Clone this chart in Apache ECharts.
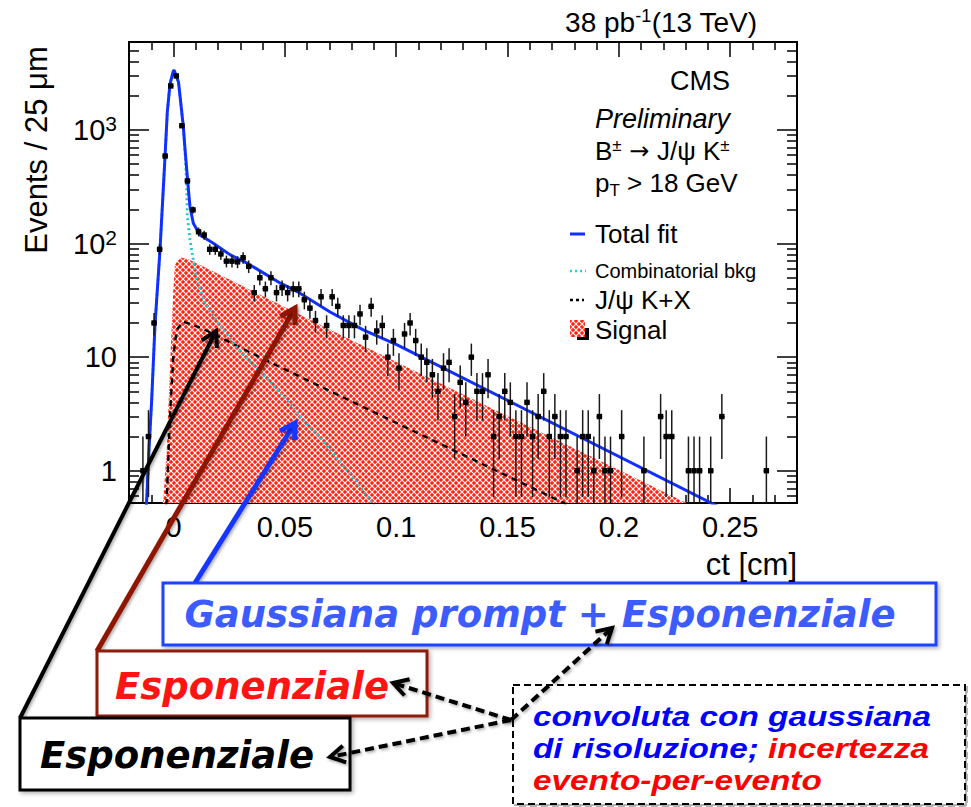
<!DOCTYPE html>
<html>
<head>
<meta charset="utf-8">
<title>B± → J/ψ K± ct</title>
<script src="https://cdn.jsdelivr.net/npm/echarts@6/dist/echarts.min.js"></script>
<style>
  html, body { margin: 0; padding: 0; background: #fff; }
  #chart { width: 971px; height: 807px; }
</style>
</head>
<body>
<div id="chart"></div>
<script>
// ct histogram: 25 μm bins from -0.02 to 0.28 cm
const CT_MIN = -0.02, CT_MAX = 0.28, BIN_WIDTH = 0.0025;
const Y_MIN = 0.52, Y_MAX = 5950;

// events per bin
const binCounts = [
  0, 0, 1, 2, 20, 89, 590, 2440, 2990, 1090,
  356, 198, 127, 119, 89, 89, 81, 70, 70, 69,
  75, 63, 37, 50, 40, 50, 37, 41, 37, 40,
  40, 32, 27, 21, 34, 19, 34, 28, 19, 19,
  19, 24, 15, 28, 17, 19, 10, 14, 8, 16,
  20, 14, 10, 9, 7, 5, 8, 9, 3, 6,
  4, 10, 5, 5, 7, 2, 3, 5, 4, 2,
  2, 4, 2, 3, 5, 2, 3, 2, 2, 0,
  1, 2, 2, 1, 3, 1, 1, 0, 2, 0,
  0, 0, 1, 0, 0, 3, 2, 2, 0, 0,
  1, 1, 1, 0, 1, 0, 3, 0, 0, 0,
  0, 0, 0, 0, 1, 0, 0, 0, 0, 0
];

// fit components, [ct (cm), events / 25 μm]
const totalFit = [
  [-0.0130, 0.30], [-0.01205, 0.557], [-0.01102, 1.53], [-0.00981, 4.22], [-0.00832, 19.3],
  [-0.00608, 88], [-0.00383, 579], [-0.00280, 1439], [-0.00159, 2539], [-0.00011, 3304],
  [0.0003, 3350], [0.00223, 2643], [0.00335, 1660], [0.00439, 1069], [0.00537, 603],
  [0.0065, 328], [0.00739, 211], [0.00888, 151], [0.01189, 119], [0.01786, 100.8],
  [0.0255, 79.5], [0.0330, 67.2], [0.0405, 54.9], [0.0480, 44.8], [0.0555, 37.8],
  [0.0703, 25.0], [0.0852, 17.4], [0.1002, 12.9], [0.25, 0.428]
];
const combinatorialBkg = [
  [-0.0130, 0.30], [-0.01205, 0.557], [-0.01102, 1.53], [-0.00981, 4.22], [-0.00832, 19.3],
  [-0.00608, 88], [-0.00383, 579], [-0.00280, 1439], [-0.00159, 2539], [-0.00011, 3304],
  [0.0003, 3330], [0.00223, 2620], [0.00335, 1640], [0.00439, 1050], [0.00537, 545],
  [0.00591, 295], [0.00618, 173], [0.00739, 108], [0.00861, 77], [0.0104, 48],
  [0.01413, 29.9], [0.0201, 19.9], [0.0276, 12.85], [0.0351, 8.87], [0.04256, 6.33],
  [0.05006, 4.37], [0.05756, 2.91], [0.06654, 1.88], [0.07777, 1.02], [0.08823, 0.557],
  [0.09048, 0.474]
];
const jpsiKX = [
  [-0.0038, 0.40], [-0.00307, 0.557], [-0.00159, 3.01], [-0.0001, 10.1], [0.00142, 17.4],
  [0.00439, 20.6], [0.01265, 18.0], [0.04256, 9.17], [0.10022, 2.63], [0.16907, 0.595],
  [0.18029, 0.466]
];
const signal = [
  [-0.00518, 0.455], [-0.0046, 0.557], [-0.00307, 1.53], [-0.00235, 3.45], [-0.00159, 8.3],
  [-0.00082, 18.6], [-0.0001, 39.2], [0.00065, 65], [0.0029, 75.9], [0.00663, 72.9],
  [0.0104, 67.2], [0.0703, 17.4], [0.1451, 3.38], [0.2035, 0.943], [0.25, 0.336]
];

// axis ticks
const xMajorTicks = [0, 0.05, 0.1, 0.15, 0.2, 0.25];
const xTickLabels = ['0', '0.05', '0.1', '0.15', '0.2', '0.25'];
const xMinorTicks = [-0.01, 0.01, 0.02, 0.03, 0.04, 0.06, 0.07, 0.08, 0.09, 0.11, 0.12, 0.13, 0.14,
  0.16, 0.17, 0.18, 0.19, 0.21, 0.22, 0.23, 0.24, 0.26, 0.27];
const yMajorTicks = [1, 10, 100, 1000];
const yTickLabels = ['1', '10', '{b|10}{s|2}', '{b|10}{s|3}'];
const yMinorTicks = [0.6, 0.7, 0.8, 0.9, 2, 3, 4, 5, 6, 7, 8, 9, 20, 30, 40, 50, 60, 70, 80, 90,
  200, 300, 400, 500, 600, 700, 800, 900, 2000, 3000, 4000, 5000];

const FONT = 'Liberation Sans, Arial, Helvetica, sans-serif';
const LOG = v => Math.log10(v);
const HALF_BIN = BIN_WIDTH / 2;

// red / white cross-hatch used for the signal component
function hatchTile() {
  const c = document.createElement('canvas');
  c.width = 6; c.height = 6;
  const g = c.getContext('2d');
  g.fillStyle = '#ff2410';
  g.fillRect(0, 0, 6, 6);
  g.strokeStyle = '#ffffff';
  g.lineWidth = 1.1;
  g.beginPath();
  g.moveTo(0, 0); g.lineTo(6, 6);
  g.moveTo(6, 0); g.lineTo(0, 6);
  g.stroke();
  return c;
}
const hatch = { image: hatchTile(), repeat: 'repeat' };

const dataPoints = binCounts
  .map((n, i) => [CT_MIN + BIN_WIDTH * (i + 0.5), n])
  .filter(d => d[1] > 0);

function xTickAxis(values, len, position, withLabels) {
  return {
    type: 'value', min: CT_MIN, max: CT_MAX, position: position,
    axisLine: { show: false, onZero: false }, splitLine: { show: false },
    axisTick: { show: true, inside: true, length: len, customValues: values,
      lineStyle: { color: '#000', width: 1.5 } },
    axisLabel: withLabels ? {
      show: true, customValues: values, margin: 9,
      fontSize: 29, fontFamily: FONT, color: '#000',
      formatter: v => xTickLabels[xMajorTicks.findIndex(t => Math.abs(t - v) < 1e-9)]
    } : { show: false }
  };
}
function yTickAxis(values, len, position, withLabels) {
  return {
    type: 'value', min: LOG(Y_MIN), max: LOG(Y_MAX), position: position,
    axisLine: { show: false, onZero: false }, splitLine: { show: false },
    axisTick: { show: true, inside: true, length: len, customValues: values.map(LOG),
      lineStyle: { color: '#000', width: 1.5 } },
    axisLabel: withLabels ? {
      show: true, customValues: values.map(LOG), margin: 12,
      fontSize: 29, fontFamily: FONT, color: '#000',
      formatter: v => yTickLabels[yMajorTicks.findIndex(t => Math.abs(LOG(t) - v) < 1e-9)],
      rich: {
        b: { fontSize: 29, fontFamily: FONT, color: '#000' },
        s: { fontSize: 21, fontFamily: FONT, color: '#000', padding: [0, 0, 12, 0] }
      }
    } : { show: false }
  };
}

function arrow(from, to, color, width, dash, z) {
  const ang = Math.atan2(to[1] - from[1], to[0] - from[0]);
  const L = 17, A = Math.PI / 6;
  const w1 = [to[0] - L * Math.cos(ang - A), to[1] - L * Math.sin(ang - A)];
  const w2 = [to[0] - L * Math.cos(ang + A), to[1] - L * Math.sin(ang + A)];
  const shadow = { shadowBlur: 3, shadowOffsetX: 1.5, shadowOffsetY: 1.5, shadowColor: 'rgba(0,0,0,0.35)' };
  return [
    { type: 'line', z: z || 50, shape: { x1: from[0], y1: from[1], x2: to[0], y2: to[1] },
      style: Object.assign({ stroke: color, lineWidth: width, lineDash: dash || null }, shadow) },
    { type: 'polyline', z: z || 50, shape: { points: [w1, to, w2] },
      style: Object.assign({ stroke: color, lineWidth: width, fill: null, lineJoin: 'miter' }, shadow) }
  ];
}
function box(x, y, w, h, stroke, width, dash) {
  return { type: 'rect', z: 60, shape: { x: x, y: y, width: w, height: h },
    style: { fill: '#fff', stroke: stroke, lineWidth: width, lineDash: dash || null,
      shadowBlur: dash ? 0 : 4, shadowOffsetX: 2, shadowOffsetY: 2, shadowColor: 'rgba(0,0,0,0.3)' } };
}
function label(x, y, text, opts, extra) {
  return Object.assign({ type: 'text', z: 70, x: x, y: y,
    style: Object.assign({ text: text, fontFamily: FONT, fontSize: 26, fill: '#000',
      align: 'left', verticalAlign: 'middle' }, opts || {}) }, extra || {});
}

const BOX_FONT = 'DejaVu Sans, Verdana, sans-serif';
const NOTE_FONT = 'Liberation Sans, Arial, sans-serif';
const noteStyle = (color) => ({ fontFamily: NOTE_FONT, fontWeight: 'bold', fontStyle: 'italic',
  fontSize: 28, lineHeight: 31, fill: color, color: color });
// the note is set in a slightly stretched face
const noteStretch = { scaleX: 1.19 };

const graphics = [].concat(
  // axis titles and header text
  [
    { type: 'text', z: 70, x: 36, y: 150, rotation: Math.PI / 2,
      style: { text: 'Events / 25 μm', fontFamily: FONT, fontSize: 31, fill: '#000',
        align: 'center', verticalAlign: 'middle' } },
    label(797, 564, 'ct [cm]', { fontSize: 31, align: 'right' }),
    label(757, 22, '{n|38 pb}{s|-1}{n|(13 TeV)}', { align: 'right',
      rich: { n: { fontSize: 28, fontFamily: FONT }, s: { fontSize: 18, fontFamily: FONT, padding: [0, 0, 12, 0] } } }),
    label(670, 81, 'CMS', { fontSize: 27 }),
    label(595, 119, 'Preliminary', { fontStyle: 'italic', fontSize: 27 }),
    label(595, 151, '{n|B}{s|±}{a| → }{n|J/ψ K}{s|±}', {
      rich: {
        n: { fontSize: 26, fontFamily: FONT },
        a: { fontSize: 24, fontFamily: 'DejaVu Sans, sans-serif' },
        s: { fontSize: 17, fontFamily: FONT, padding: [0, 0, 11, 0] }
      } }),
    label(595, 183, '{n|p}{t|T}{n| > 18 GeV}', {
      rich: { n: { fontSize: 26, fontFamily: FONT }, t: { fontSize: 17, fontFamily: FONT, padding: [14, 0, 0, 0] } } })
  ],
  // legend
  [
    { type: 'line', z: 70, shape: { x1: 570, y1: 234, x2: 585, y2: 234 }, style: { stroke: '#1030ff', lineWidth: 3 } },
    label(595, 234, 'Total fit'),
    { type: 'line', z: 70, shape: { x1: 570, y1: 271, x2: 586, y2: 271 }, style: { stroke: '#22d4dc', lineWidth: 2.6, lineDash: [2, 3] } },
    label(595, 271, 'Combinatorial bkg', { fontSize: 20 }),
    { type: 'line', z: 70, shape: { x1: 570, y1: 300, x2: 584, y2: 300 }, style: { stroke: '#000', lineWidth: 2.4, lineDash: [3, 3] } },
    label(595, 300, 'J/ψ K+X'),
    { type: 'rect', z: 69, shape: { x: 577, y: 328, width: 12, height: 12 }, style: { fill: '#000' } },
    { type: 'rect', z: 70, shape: { x: 570, y: 320, width: 15, height: 17 }, style: { fill: hatch } },
    label(595, 330, 'Signal')
  ],
  // annotation arrows
  arrow([195, 583], [295, 423], '#1436ff', 5),
  arrow([97, 651], [295, 308], '#8e1606', 5),
  arrow([20, 718], [216, 331], '#000', 4),
  arrow([511, 720], [393, 683], '#000', 4, [9, 5], 65),
  arrow([511, 720], [330, 757], '#000', 4, [9, 5], 65),
  arrow([511, 720], [612, 628], '#000', 4, [9, 5], 65),
  // annotation boxes
  [
    box(163, 583, 773, 62, '#1a44ff', 3),
    label(540, 614, 'Gaussiana prompt + Esponenziale', { fontFamily: BOX_FONT, fontWeight: 'bold',
      fontStyle: 'italic', fontSize: 37, fill: '#3d5cff', align: 'center' }),
    box(97, 651, 330, 65, '#8e1a0a', 3),
    label(252, 686, 'Esponenziale', { fontFamily: BOX_FONT, fontWeight: 'bold',
      fontStyle: 'italic', fontSize: 37, fill: '#ff1414', align: 'center' }),
    box(20, 718, 330, 72, '#000', 3),
    label(177, 755, 'Esponenziale', { fontFamily: BOX_FONT, fontWeight: 'bold',
      fontStyle: 'italic', fontSize: 37, fill: '#000', align: 'center' }),
    box(513, 685, 452, 119, '#000', 2, [7, 4]),
    label(533, 716, 'convoluta con gaussiana', noteStyle('#0000ff'), noteStretch),
    label(533, 748, '{b|di risoluzione; }{r|incertezza}', {
      rich: { b: noteStyle('#0000ff'), r: noteStyle('#ff0000') } }, noteStretch),
    label(533, 780, 'evento-per-evento', noteStyle('#ff0000'), noteStretch)
  ]
);

const chart = echarts.init(document.getElementById('chart'), null, { renderer: 'svg' });
chart.setOption({
  backgroundColor: '#fff',
  animation: false,
  grid: { left: 129, top: 42, width: 668, height: 461, show: true,
    borderColor: '#000', borderWidth: 2, backgroundColor: 'transparent',
    outerBoundsMode: 'none', containLabel: false },
  xAxis: [
    xTickAxis(xMajorTicks, 15, 'bottom', true),
    xTickAxis(xMinorTicks, 8, 'bottom', false),
    xTickAxis(xMajorTicks, 15, 'top', false),
    xTickAxis(xMinorTicks, 8, 'top', false)
  ],
  yAxis: [
    { type: 'log', logBase: 10, min: Y_MIN, max: Y_MAX, show: false },
    yTickAxis(yMajorTicks, 20, 'left', true),
    yTickAxis(yMinorTicks, 10, 'left', false),
    yTickAxis(yMajorTicks, 20, 'right', false),
    yTickAxis(yMinorTicks, 10, 'right', false)
  ],
  series: [
    { name: 'Signal', type: 'line', data: signal, xAxisIndex: 0, yAxisIndex: 0,
      symbol: 'none', clip: true, z: 1, lineStyle: { width: 0 },
      areaStyle: { color: hatch, opacity: 1, origin: 'start' } },
    { name: 'J/ψ K+X', type: 'line', data: jpsiKX, xAxisIndex: 0, yAxisIndex: 0,
      symbol: 'none', clip: true, z: 3, lineStyle: { color: '#000', width: 2.4, type: [6, 5] } },
    { name: 'Combinatorial bkg', type: 'line', data: combinatorialBkg, xAxisIndex: 0, yAxisIndex: 0,
      symbol: 'none', clip: true, z: 3, lineStyle: { color: '#1ec6cc', width: 2.8, type: [2, 3] } },
    { name: 'Total fit', type: 'line', data: totalFit, xAxisIndex: 0, yAxisIndex: 0,
      symbol: 'none', clip: true, z: 4, lineStyle: { color: '#1030ff', width: 3 } },
    { name: 'Data', type: 'custom', data: dataPoints, xAxisIndex: 0, yAxisIndex: 0, z: 5,
      encode: { x: 0, y: 1 },
      renderItem: function (params, api) {
        const ct = api.value(0), n = api.value(1);
        const cs = params.coordSys;
        const bottomEdge = cs.y + cs.height;
        const c = api.coord([ct, n]);
        const err = Math.sqrt(n);
        const top = Math.max(api.coord([ct, n + err])[1], cs.y);
        const lo = n - err;
        const bot = lo > Y_MIN ? api.coord([ct, lo])[1] : bottomEdge;
        const xl = api.coord([ct - HALF_BIN, n])[0];
        const xr = api.coord([ct + HALF_BIN, n])[0];
        const ls = { stroke: '#1a1a1a', lineWidth: 1.5 };
        return { type: 'group', children: [
          { type: 'line', shape: { x1: c[0], y1: top, x2: c[0], y2: bot }, style: ls },
          { type: 'line', shape: { x1: xl, y1: c[1], x2: xr, y2: c[1] }, style: ls },
          { type: 'rect', shape: { x: c[0] - 2.7, y: c[1] - 2.7, width: 5.4, height: 5.4 }, style: { fill: '#000' } }
        ] };
      }
    }
  ],
  graphic: graphics
});
</script>
</body>
</html>
